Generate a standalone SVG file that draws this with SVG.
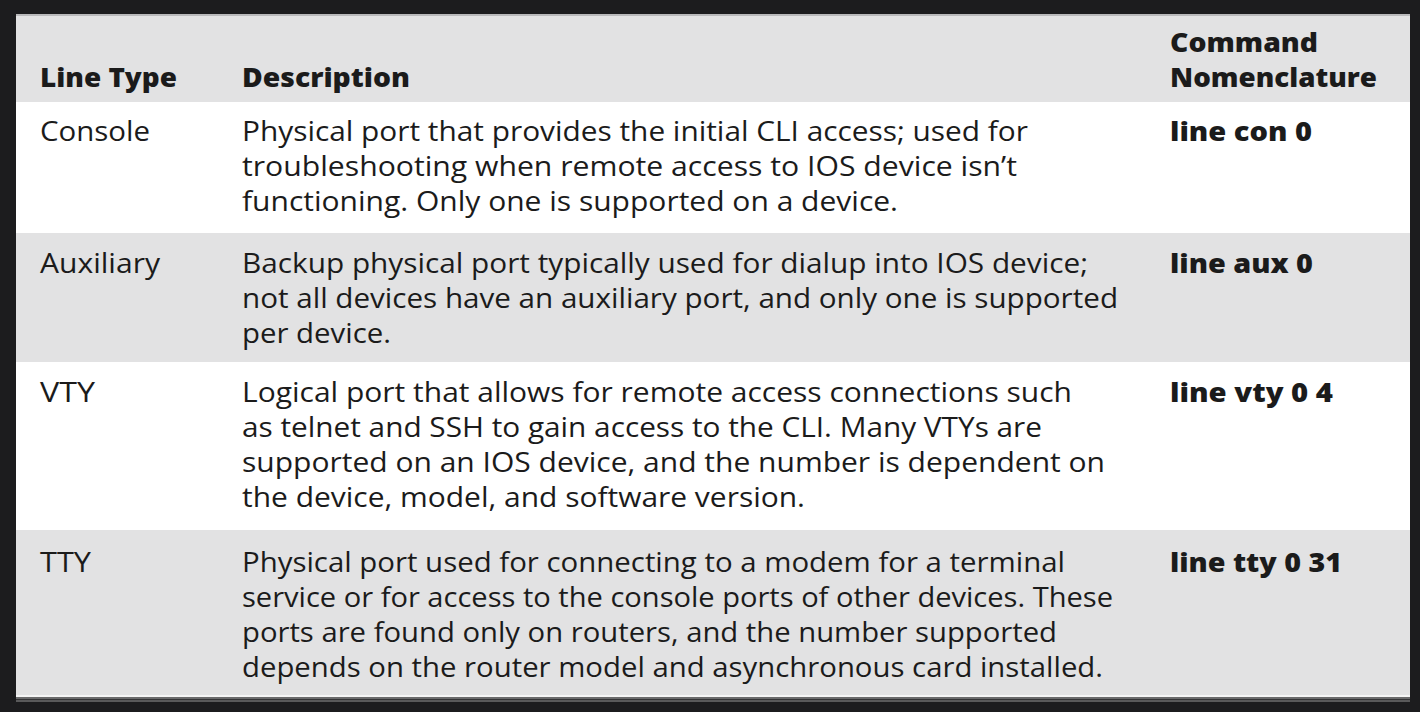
<svg xmlns="http://www.w3.org/2000/svg" width="1420" height="712" viewBox="0 0 1420 712">
<style>
.t{font-family:"Open Sans","Liberation Sans",sans-serif;font-size:27px;fill:#1b1b1b}
.b{font-family:"Open Sans","Liberation Sans",sans-serif;font-size:27px;font-weight:800;fill:#1b1b1b}
.gray{fill:#e2e2e3}
.white{fill:#ffffff}
</style>
<rect x="0" y="0" width="1420" height="712" fill="#1c1c1e"/>
<rect x="16" y="14" width="1394" height="2" fill="#b9b9bb"/>
<g id="header">
<rect class="gray" x="16" y="16" width="1394" height="86"/>
<text class="b" x="40" y="87" textLength="137" lengthAdjust="spacingAndGlyphs">Line Type</text>
<text class="b" x="242" y="87" textLength="168" lengthAdjust="spacingAndGlyphs">Description</text>
<text class="b" x="1170" y="52" textLength="148" lengthAdjust="spacingAndGlyphs">Command</text>
<text class="b" x="1170" y="87" textLength="207" lengthAdjust="spacingAndGlyphs">Nomenclature</text>
</g>
<g id="row-console">
<rect class="white" x="16" y="102" width="1394" height="131"/>
<text class="t" x="40" y="141" textLength="110" lengthAdjust="spacingAndGlyphs">Console</text>
<text class="t" x="242" y="141" textLength="786" lengthAdjust="spacingAndGlyphs">Physical port that provides the initial CLI access; used for</text>
<text class="t" x="242" y="176" textLength="775" lengthAdjust="spacingAndGlyphs">troubleshooting when remote access to IOS device isn’t</text>
<text class="t" x="242" y="211" textLength="656" lengthAdjust="spacingAndGlyphs">functioning. Only one is supported on a device.</text>
<text class="b" x="1170" y="141" textLength="142" lengthAdjust="spacingAndGlyphs">line con 0</text>
</g>
<g id="row-auxiliary">
<rect class="gray" x="16" y="233" width="1394" height="129"/>
<text class="t" x="40" y="273" textLength="120" lengthAdjust="spacingAndGlyphs">Auxiliary</text>
<text class="t" x="242" y="273" textLength="846" lengthAdjust="spacingAndGlyphs">Backup physical port typically used for dialup into IOS device;</text>
<text class="t" x="242" y="308" textLength="876" lengthAdjust="spacingAndGlyphs">not all devices have an auxiliary port, and only one is supported</text>
<text class="t" x="242" y="343" textLength="149" lengthAdjust="spacingAndGlyphs">per device.</text>
<text class="b" x="1170" y="273" textLength="143" lengthAdjust="spacingAndGlyphs">line aux 0</text>
</g>
<g id="row-vty">
<rect class="white" x="16" y="362" width="1394" height="168"/>
<text class="t" x="40" y="402" textLength="55" lengthAdjust="spacingAndGlyphs">VTY</text>
<text class="t" x="242" y="402" textLength="830" lengthAdjust="spacingAndGlyphs">Logical port that allows for remote access connections such</text>
<text class="t" x="242" y="437" textLength="800" lengthAdjust="spacingAndGlyphs">as telnet and SSH to gain access to the CLI. Many VTYs are</text>
<text class="t" x="242" y="472" textLength="863" lengthAdjust="spacingAndGlyphs">supported on an IOS device, and the number is dependent on</text>
<text class="t" x="242" y="507" textLength="563" lengthAdjust="spacingAndGlyphs">the device, model, and software version.</text>
<text class="b" x="1170" y="402" textLength="163" lengthAdjust="spacingAndGlyphs">line vty 0 4</text>
</g>
<g id="row-tty">
<rect class="gray" x="16" y="530" width="1394" height="165"/>
<text class="t" x="40" y="572" textLength="51" lengthAdjust="spacingAndGlyphs">TTY</text>
<text class="t" x="242" y="572" textLength="823" lengthAdjust="spacingAndGlyphs">Physical port used for connecting to a modem for a terminal</text>
<text class="t" x="242" y="607" textLength="871" lengthAdjust="spacingAndGlyphs">service or for access to the console ports of other devices. These</text>
<text class="t" x="242" y="642" textLength="815" lengthAdjust="spacingAndGlyphs">ports are found only on routers, and the number supported</text>
<text class="t" x="242" y="677" textLength="861" lengthAdjust="spacingAndGlyphs">depends on the router model and asynchronous card installed.</text>
<text class="b" x="1170" y="572" textLength="172" lengthAdjust="spacingAndGlyphs">line tty 0 31</text>
</g>
<g id="bottom-rule">
<rect x="16" y="695" width="1394" height="2" fill="#f4f4f4"/>
<rect x="16" y="697" width="1394" height="2" fill="#6a6a6b"/>
<rect x="16" y="699" width="1394" height="1" fill="#333335"/>
<rect x="16" y="700" width="1394" height="2" fill="#59595a"/>
</g>
</svg>
